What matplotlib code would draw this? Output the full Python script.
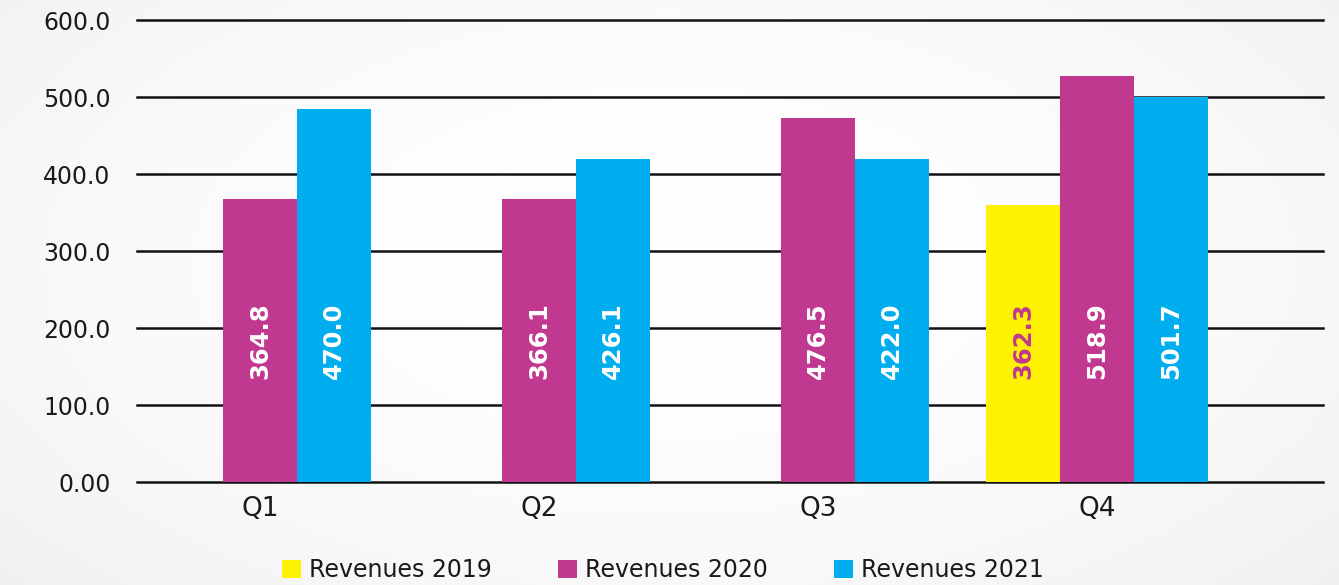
import numpy as np
import matplotlib
matplotlib.use("Agg")
import matplotlib.pyplot as plt
from matplotlib.patches import Patch

# ---- data ----
categories = ["Q1", "Q2", "Q3", "Q4"]
series_names = ["Revenues 2019", "Revenues 2020", "Revenues 2021"]
rev_2019 = [np.nan, np.nan, np.nan, 360.0]
rev_2020 = [367.5, 367.5, 472.7, 527.0]
rev_2021 = [484.4, 419.5, 419.5, 500.4]
labels_2019 = ["", "", "", "362.3"]
labels_2020 = ["364.8", "366.1", "476.5", "518.9"]
labels_2021 = ["470.0", "426.1", "422.0", "501.7"]
y_ticks = [0, 100, 200, 300, 400, 500, 600]
y_tick_labels = ["0.00", "100.0", "200.0", "300.0", "400.0", "500.0", "600.0"]

colors = ["#FFF200", "#C13891", "#00ADEE"]
label_colors = ["#C13891", "white", "white"]

plt.rcParams["font.family"] = ["DejaVu Sans"]

fig = plt.figure(figsize=(13.39, 5.85), dpi=100)

# subtle background gradient
bg = fig.add_axes([0, 0, 1, 1], zorder=-10)
yy, xx = np.mgrid[0:1:200j, 0:1:400j]
dist = np.sqrt(((xx - 0.5) / 0.75) ** 2 + ((yy - 0.45) / 0.9) ** 2)
grad = 1.0 - 0.07 * np.clip(dist, 0, 1.2) ** 2
bg.imshow(np.dstack([grad] * 3), aspect="auto", extent=[0, 1, 0, 1], interpolation="bilinear")
bg.axis("off")

ax = fig.add_axes([0.1023, 0.176, 0.8857, 0.7898])
ax.patch.set_alpha(0)

x = np.arange(len(categories))
w = 0.265
series = [rev_2019, rev_2020, rev_2021]
labels = [labels_2019, labels_2020, labels_2021]
label_y = 183

for i, (vals, labs) in enumerate(zip(series, labels)):
    pos = x + (i - 1) * w
    ax.bar(pos, vals, width=w, color=colors[i], zorder=3, linewidth=0)
    for p, v, t in zip(pos, vals, labs):
        if t and not np.isnan(v):
            ax.text(p, label_y, t, rotation=90, ha="center", va="center",
                    color=label_colors[i], fontsize=17.5, fontweight="bold",
                    zorder=4)

for t in y_ticks:
    ax.axhline(t, color="#111111", linewidth=1.8, zorder=2, clip_on=False)

ax.set_xlim(-0.441, 3.810)
ax.set_ylim(0, 600)
ax.set_yticks(y_ticks)
ax.set_yticklabels(y_tick_labels, fontsize=17, color="#1a1a1a")
ax.set_xticks(x)
ax.set_xticklabels(categories, fontsize=19, color="#1a1a1a")
ax.tick_params(axis="y", length=0, pad=19)
ax.tick_params(axis="x", length=0, pad=10)
for s in ax.spines.values():
    s.set_visible(False)

handles = [Patch(facecolor=c, edgecolor="none") for c in colors]
fig.legend(handles, series_names, loc="center", bbox_to_anchor=(0.495, 0.026),
           ncol=3, frameon=False, fontsize=17, handlelength=0.8, handleheight=0.8,
           handletextpad=0.35, columnspacing=2.8, labelcolor="#1a1a1a")

fig.savefig("out.png", dpi=100)
